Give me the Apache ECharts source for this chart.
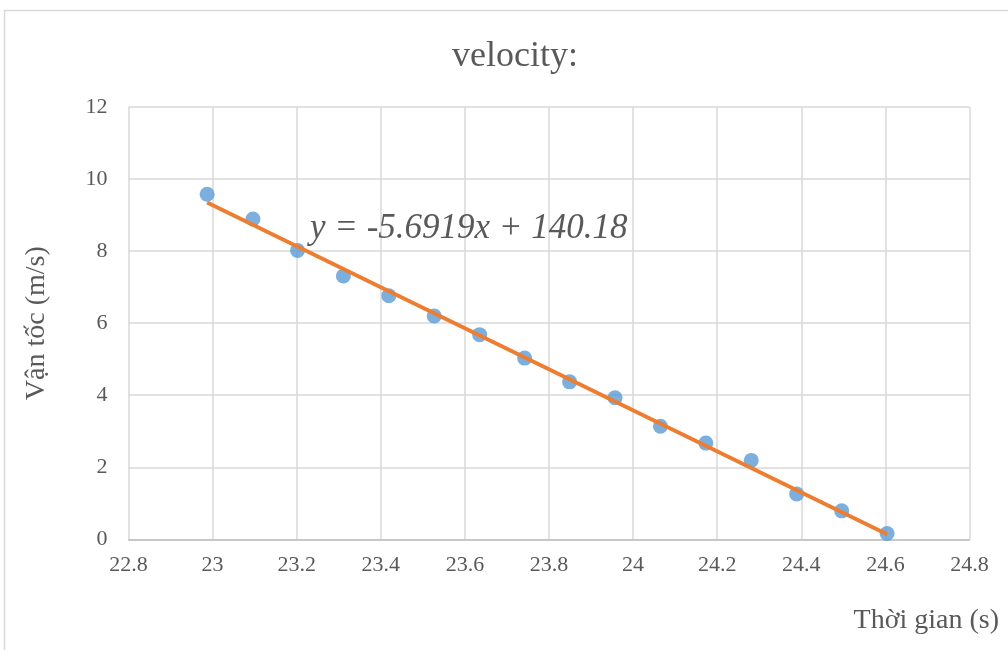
<!DOCTYPE html>
<html>
<head>
<meta charset="utf-8">
<script src="https://cdn.jsdelivr.net/npm/echarts@6/dist/echarts.min.js"></script>
<style>html,body{margin:0;padding:0;background:#fff;}#c{width:1008px;height:650px;}</style>
</head>
<body>
<div id="c"></div>
<script>
// Measured data
var timeS = [22.987, 23.096, 23.202, 23.311, 23.419, 23.527, 23.635, 23.742, 23.849, 23.957, 24.065, 24.173, 24.281, 24.389, 24.496, 24.604];
var velocity = [9.58, 8.89, 8.02, 7.31, 6.76, 6.20, 5.68, 5.03, 4.37, 3.93, 3.14, 2.67, 2.19, 1.26, 0.79, 0.16];
// Linear trendline endpoints (y = -5.6919x + 140.18)
var trendX = [22.987, 24.604];
var trendY = [9.35, 0.14];
var titleText = 'velocity:';
var equationText = 'y = -5.6919x + 140.18';
var xName = 'Thời gian (s)';
var yName = 'Vận tốc (m/s)';

var points = timeS.map(function (t, i) { return [t, velocity[i]]; });
var trend = trendX.map(function (t, i) { return [t, trendY[i]]; });

var font = 'Liberation Serif, Times New Roman, serif';
var txt = '#595959';
var chart = echarts.init(document.getElementById('c'), null, {renderer: 'canvas'});
chart.setOption({
  animation: false,
  backgroundColor: '#fff',
  grid: {left: 128.5, right: 38.5, top: 107, bottom: 110.7, containLabel: false},
  xAxis: {
    type: 'value', min: 22.8, max: 24.8, interval: 0.2,
    axisLine: {show: true, lineStyle: {color: '#BFBFBF', width: 1.5}},
    axisTick: {show: false},
    splitLine: {show: true, lineStyle: {color: '#D9D9D9', width: 1.5}},
    axisLabel: {color: txt, fontFamily: font, fontSize: 22, margin: 15,
      formatter: function (v) { return String(Math.round(v * 10) / 10); }}
  },
  yAxis: {
    type: 'value', min: 0, max: 12, interval: 2,
    name: yName, nameLocation: 'middle', nameGap: 78, nameRotate: 90,
    nameTextStyle: {color: txt, fontFamily: font, fontSize: 28},
    axisLine: {show: false},
    axisTick: {show: false},
    splitLine: {show: true, lineStyle: {color: '#D9D9D9', width: 1.5}},
    axisLabel: {color: txt, fontFamily: font, fontSize: 22, margin: 21}
  },
  graphic: [
    {type: 'rect', silent: true, z: -10, shape: {x: 4.5, y: 10.5, width: 1020, height: 700},
      style: {fill: 'none', stroke: '#D9D9D9', lineWidth: 1.5}},
    {type: 'text', x: 515, y: 57, silent: true,
      style: {text: titleText, fill: txt, font: '36px ' + font, align: 'center', verticalAlign: 'middle'}},
    {type: 'text', x: 310, y: 229, silent: true, z: 10,
      style: {text: equationText, fill: txt, font: 'italic 35px ' + font, align: 'left', verticalAlign: 'middle'}},
    {type: 'text', x: 999, y: 621, silent: true,
      style: {text: xName, fill: txt, font: '28px ' + font, align: 'right', verticalAlign: 'middle'}}
  ],
  series: [
    {type: 'scatter', data: points, symbol: 'circle', symbolSize: 15,
      itemStyle: {color: '#5B9BD5'}, z: 2},
    {type: 'line', data: trend, symbol: 'none', z: 3,
      lineStyle: {color: '#ED7D31', width: 4}}
  ]
});
</script>
</body>
</html>
